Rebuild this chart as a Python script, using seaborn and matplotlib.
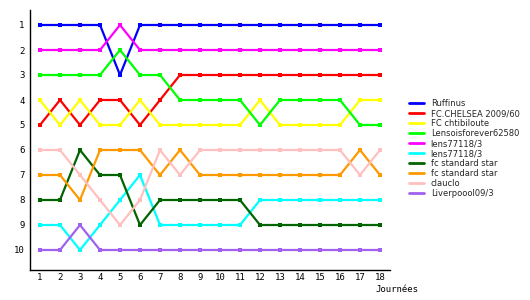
import matplotlib
matplotlib.use("Agg")
import matplotlib.pyplot as plt
import seaborn as sns
import pandas as pd

days = list(range(1, 19))
teams = ["Ruffinus", "FC.CHELSEA 2009/60", "FC chtibiloute", "Lensoisforever62580",
         "lens77118/3", "lens77118/3", "fc standard star", "fc standard star",
         "clauclo", "Liverpoool09/3"]
ruffinus =    [1, 1, 1, 1, 3, 1, 1, 1, 1, 1, 1, 1, 1, 1, 1, 1, 1, 1]
chelsea =     [5, 4, 5, 4, 4, 5, 4, 3, 3, 3, 3, 3, 3, 3, 3, 3, 3, 3]
chtibiloute = [4, 5, 4, 5, 5, 4, 5, 5, 5, 5, 5, 4, 5, 5, 5, 5, 4, 4]
lensoisfor =  [3, 3, 3, 3, 2, 3, 3, 4, 4, 4, 4, 5, 4, 4, 4, 4, 5, 5]
lens_a =      [2, 2, 2, 2, 1, 2, 2, 2, 2, 2, 2, 2, 2, 2, 2, 2, 2, 2]
lens_b =      [9, 9, 10, 9, 8, 7, 9, 9, 9, 9, 9, 8, 8, 8, 8, 8, 8, 8]
fcstar_a =    [8, 8, 6, 7, 7, 9, 8, 8, 8, 8, 8, 9, 9, 9, 9, 9, 9, 9]
fcstar_b =    [7, 7, 8, 6, 6, 6, 7, 6, 7, 7, 7, 7, 7, 7, 7, 7, 6, 7]
clauclo =     [6, 6, 7, 8, 9, 8, 6, 7, 6, 6, 6, 6, 6, 6, 6, 6, 7, 6]
liverpool =   [10, 10, 9, 10, 10, 10, 10, 10, 10, 10, 10, 10, 10, 10, 10, 10, 10, 10]
series = [ruffinus, chelsea, chtibiloute, lensoisfor, lens_a, lens_b,
          fcstar_a, fcstar_b, clauclo, liverpool]
colors = ["#0000ff", "#ff0000", "#ffff00", "#00ff00", "#ff00ff", "#00ffff",
          "#006400", "#ff9900", "#ffc0c0", "#a060f0"]
x_label = "Journées"

sns.set_style("white")
plt.rcParams["font.family"] = ["DejaVu Sans Mono", "DejaVu Sans"]

fig = plt.figure(figsize=(5.3, 3.0), dpi=100)
ax = fig.add_axes([30 / 530, 30 / 300, 360 / 530, 260 / 300])

for name, vals, col in zip(teams, series, colors):
    df = pd.DataFrame({"day": days, "rank": vals})
    sns.lineplot(data=df, x="day", y="rank", color=col, marker="s",
                 markersize=3, markeredgewidth=0, linewidth=1.6,
                 label=name, ax=ax)

ax.set_xlim(0.5, 18.5)
ax.set_ylim(10.8, 0.4)
ax.set_xticks(days)
ax.set_yticks(range(1, 11))
ax.tick_params(axis="both", length=0, labelsize=6.5, colors="black")
ax.tick_params(axis="y", pad=4)
ax.tick_params(axis="x", pad=2)
ax.set_xlabel("")
ax.set_ylabel("")
for s in ["top", "right"]:
    ax.spines[s].set_visible(False)
for s in ["left", "bottom"]:
    ax.spines[s].set_color("black")
    ax.spines[s].set_linewidth(1.0)

fig.text(418 / 530, 1 - 290 / 300, x_label, ha="right", va="center",
         fontsize=6.5, color="black")

leg = ax.legend(loc="upper left", bbox_to_anchor=(409 / 530, 1 - 99 / 300),
                bbox_transform=fig.transFigure, frameon=False,
                prop={"family": "DejaVu Sans", "size": 6},
                handlelength=1.8, handletextpad=0.8, labelspacing=0.12,
                borderpad=0, borderaxespad=0)
for h in leg.get_lines():
    h.set_marker("")
    h.set_linewidth(2)

fig.savefig("out.png", dpi=100)
